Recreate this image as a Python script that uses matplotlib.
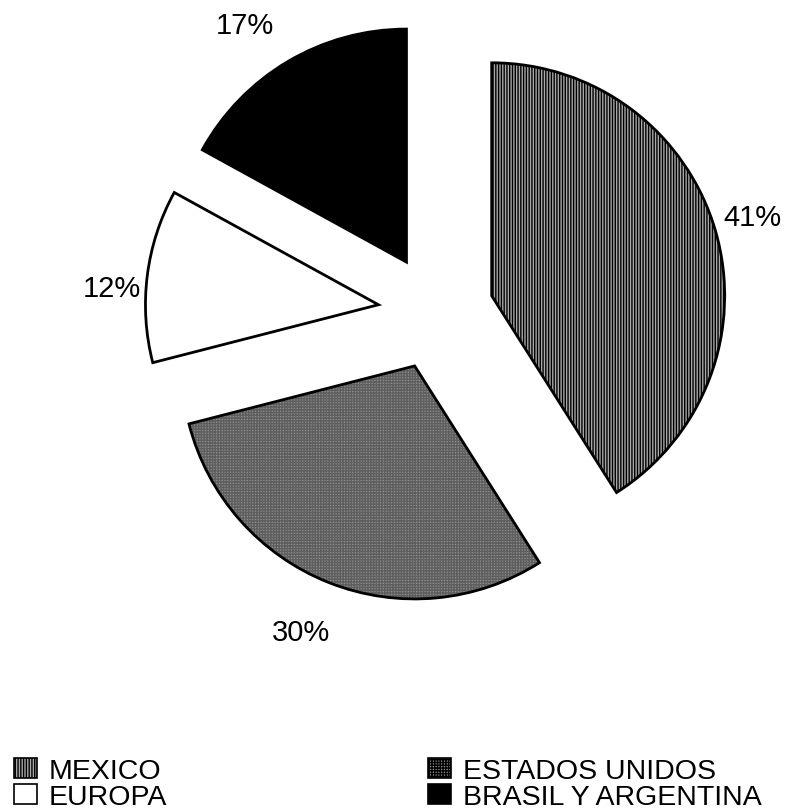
import matplotlib
matplotlib.use("Agg")
import matplotlib.pyplot as plt
from matplotlib import font_manager
from matplotlib.patches import Wedge, Rectangle
import numpy as np

# ---- data ----
categories = ["MEXICO", "ESTADOS UNIDOS", "EUROPA", "BRASIL Y ARGENTINA"]
shares = [41, 30, 12, 17]
pct_labels = ["41%", "30%", "12%", "17%"]

# ---- style ----
faces = ["#a8a8a8", "#8e8e8e", "white", "black"]
hatches = ["||||||", "++++++", None, None]
hatch_edge = ["black", "#5e5e5e", "black", "black"]
label_dist = [1.167, 1.242, 1.146, 1.231]
label_rot = [0.6, -1.5, 3.6, 3.7]   # angular nudge of label (deg)

names = {f.name for f in font_manager.fontManager.ttflist}
main_font = "Liberation Sans" if "Liberation Sans" in names else "DejaVu Sans"

plt.rcParams["hatch.linewidth"] = 1.0

fig = plt.figure(figsize=(7.92, 8.12), dpi=100)
ax = fig.add_axes([0, 0, 1, 1])

cx, cy, R = 436, 812 - 313, 233
wedges, _ = ax.pie(shares, center=(cx, cy), radius=R, explode=[58] * 4,
                   startangle=90, counterclock=False,
                   colors=faces, wedgeprops=dict(linewidth=0))
for w, h, he in zip(wedges, hatches, hatch_edge):
    w.set_edgecolor(he)
    if h:
        w.set_hatch(h)
    ax.add_patch(Wedge(w.center, w.r, w.theta1, w.theta2, fill=False,
                       edgecolor="black", linewidth=2.0, joinstyle="miter"))

for w, lab, d, dr in zip(wedges, pct_labels, label_dist, label_rot):
    th = np.deg2rad((w.theta1 + w.theta2) / 2 + dr)
    x = w.center[0] + d * w.r * np.cos(th)
    y = w.center[1] + d * w.r * np.sin(th)
    ax.text(x, y, lab, ha="center", va="center", fontsize=21,
            family=main_font, color="black")

ax.set_xlim(0, 792)
ax.set_ylim(0, 812)
ax.set_aspect("equal")
ax.axis("off")

handles = []
for f, h in zip(faces, hatches):
    handles.append(Rectangle((0, 0), 1, 1, facecolor=f, hatch=h,
                             edgecolor="black", linewidth=1.2))
order = [0, 2, 1, 3]
leg = fig.legend([handles[i] for i in order], [categories[i] for i in order],
                 loc="lower left", bbox_to_anchor=(14 / 792, 1 / 812),
                 ncol=2, frameon=False,
                 prop=dict(family=main_font, size=20.5),
                 handlelength=0.8, handleheight=0.72, handletextpad=0.4,
                 labelspacing=0.0, columnspacing=9.2, borderpad=0,
                 borderaxespad=0)

fig.savefig("out.png", dpi=100)
